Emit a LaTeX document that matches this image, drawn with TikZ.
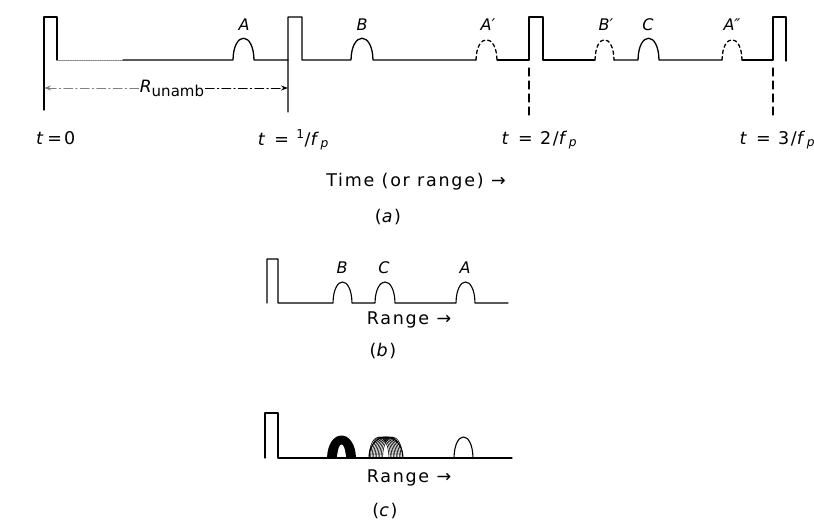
\documentclass[tikz,border=0pt]{standalone}
\usepackage{fontspec}
\setmainfont{DejaVu Sans}
\usetikzlibrary{arrows.meta}
\begin{document}
\begin{tikzpicture}[x=1pt,y=-1pt,line cap=round,line join=round,
  trace/.style={line width=1.3pt},
  thintrace/.style={line width=1.1pt},
  ghost/.style={dash pattern=on 3.5pt off 3pt},
  marker/.style={line width=1.3pt,dash pattern=on 8pt off 5pt},
  bump/.style={to path={.. controls +(0.5,-#1) and +(-0.5,-#1) .. (\tikztotarget)}},
  bump/.default=29,
  lab/.style={inner sep=0pt,font=\fontsize{16}{19}\selectfont\itshape},
  txt/.style={inner sep=0pt,font=\fontsize{17.5}{20}\selectfont\addfontfeatures{LetterSpace=10}},
  span/.style={line width=0.9pt,dash pattern=on 9pt off 3pt on 1.5pt off 3pt,
    -{Stealth[length=7pt,width=5pt]}}]
\useasboundingbox (0,0) rectangle (814,522);

% ---------- (a) pulse train over three periods ----------
\draw[trace] (44,110) -- (44,17) -- (57,17) -- (57,60);
\draw[line width=0.8pt,densely dotted,gray] (57,60) -- (123,60);
\draw[trace] (123,60) -- (233,60) to[bump] (254,60) -- (288,60);
\draw[trace] (288,112) -- (288,17) -- (302,17) -- (302,60)
  -- (351,60) to[bump] (373,60) -- (476,60);
\draw[trace,ghost] (476,60) to[bump=27] (497,60);
\draw[trace] (497,60) -- (529,60) -- (529,17) -- (543,17) -- (543,60) -- (595,60);
\draw[trace,ghost] (595,60) to[bump=27] (614,60);
\draw[trace] (614,60) -- (638,60) to[bump] (659,60) -- (722,60);
\draw[trace,ghost] (722,60) to[bump=27] (742,60);
\draw[trace] (742,60) -- (773,60) -- (773,17) -- (786,17) -- (786,61);

% period markers
\draw[marker] (529,68) -- (529,116);
\draw[marker] (773,68) -- (773,116);

% echo labels
\node[lab] (lA)   at (244,25) {A};
\node[lab] (lB)   at (362,25) {B};
\node[lab] (lA1)  at (488,25) {A′};
\node[lab] (lB1)  at (606,25) {B′};
\node[lab] (lC)   at (648,25) {C};
\node[lab] (lA2)  at (732,25) {A″};

% unambiguous range span
\node[inner sep=1pt] (Ru) at (172,88)
  {\fontsize{17}{20}\selectfont\itshape R\upshape\raisebox{-4pt}{\fontsize{15}{17}\selectfont unamb}};
\draw[span] (Ru.east) -- (288,88);
\draw[span,gray] (Ru.west) -- (44,88);

% time marks
\node[txt,anchor=west] (t0) at (36,138) {\textit{t}\kern2pt=\kern2pt0};
\node[txt] (t1) at (294,140) {\textit{t} = \textsuperscript{1}/\textit{f}\textsubscript{\textit{p}}};
\node[txt] (t2) at (540,140) {\textit{t} = 2/\textit{f}\textsubscript{\textit{p}}};
\node[txt] (t3) at (778,140) {\textit{t} = 3/\textit{f}\textsubscript{\textit{p}}};

\node[txt] (axA) at (416,182) {Time (or range) →};
\node[txt] (capA) at (388,217) {(\textit{a})};

% ---------- (b) apparent ranges ----------
\draw[thintrace] (267,303) -- (267,259) -- (278,259) -- (278,303)
  -- (333,303) to[bump=28] (352,303) -- (375,303) to[bump=28] (395,303)
  -- (456,303) to[bump=28] (475,303) -- (508,303);
\node[lab] (bB) at (342,268) {B};
\node[lab] (bC) at (384,268) {C};
\node[lab] (bA) at (465,268) {A};
\node[txt] (axB) at (409,320) {Range →};
\node[txt] (capB) at (383,351) {(\textit{b})};

% ---------- (c) integration over many PRFs ----------
% solid smear: outer arch filled, narrow opening left white
\fill (327,458) .. controls (328,428) and (355,428) .. (356,458) -- cycle;
\fill[white] (337,458) .. controls (338,440) and (345,440) .. (346,458) -- cycle;
% spread of overlapping echoes
\foreach \o in {-7,-5.5,...,7}
  \draw[line width=0.6pt] (376+\o,458) to[bump=28] (396+\o,458);
\draw[line width=1.1pt] (369,458) to[bump=28] (403,458);
% single stable echo
\draw[thintrace] (454,458) to[bump=28] (473,458);
\draw[thintrace] (265,458) -- (265,413) -- (278,413) -- (278,458) -- (512,458);
\node[txt] (axC) at (409,478) {Range →};
\node[txt] (capC) at (385,511) {(\textit{c})};
\end{tikzpicture}
\end{document}
